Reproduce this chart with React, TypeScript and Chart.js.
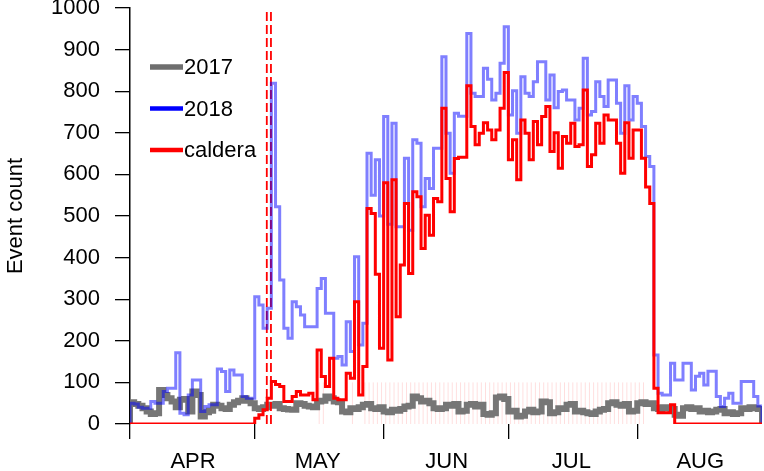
import React, { useEffect, useRef } from 'react';
import { Chart, registerables } from 'chart.js';

Chart.register(...registerables);

const FONT = '"Liberation Sans", Arial, Helvetica, sans-serif';

// x axis: days since 1 April
const dayCount = 152;
const monthTicks = [0, 30, 61, 91, 122];
const monthLabels = ['APR', 'MAY', 'JUN', 'JUL', 'AUG'];
const yMax = 1000;
const yStep = 100;

const counts2017 = [
  52, 48, 44, 38, 30, 24, 26, 82, 70, 62,
  54, 40, 58, 60, 30, 78, 70, 18, 28, 32,
  46, 44, 38, 36, 46, 52, 56, 62, 56, 50,
  38, 36, 40, 46, 44, 48, 38, 36, 35, 34,
  50, 48, 44, 42, 40, 54, 56, 66, 62, 54,
  52, 30, 28, 38, 36, 40, 46, 48, 38, 36,
  40, 30, 28, 34, 32, 36, 42, 44, 66, 62,
  54, 56, 50, 38, 36, 38, 46, 44, 48, 30,
  32, 46, 48, 42, 46, 24, 22, 26, 64, 66,
  60, 30, 32, 18, 20, 30, 34, 28, 30, 54,
  52, 26, 28, 38, 36, 46, 48, 30, 32, 28,
  26, 24, 30, 34, 36, 50, 52, 46, 44, 48,
  30, 32, 50, 52, 48, 50, 38, 36, 40, 38,
  36, 22, 20, 38, 40, 36, 38, 30, 32, 28,
  30, 34, 36, 26, 28, 24, 26, 38, 36, 40,
  38, 36,
];

const counts2018 = [
  50, 48, 40, 38, 38, 54, 50, 50, 78, 86,
  86, 171, 26, 22, 70, 106, 106, 30, 42, 46,
  46, 132, 126, 78, 130, 118, 118, 66, 62, 62,
  306, 286, 230, 278, 819, 522, 346, 230, 206, 294,
  282, 262, 234, 234, 234, 326, 350, 266, 266, 158,
  162, 142, 246, 174, 402, 190, 242, 651, 550, 635,
  500, 739, 480, 723, 474, 474, 639, 466, 683, 675,
  522, 590, 566, 663, 663, 883, 699, 603, 747, 740,
  740, 939, 795, 787, 787, 855, 829, 779, 795, 867,
  955, 743, 801, 699, 835, 795, 787, 823, 871, 871,
  779, 839, 760, 799, 803, 779, 779, 731, 759, 879,
  743, 751, 823, 787, 763, 827, 827, 771, 699, 813,
  731, 787, 771, 715, 643, 619, 166, 74, 70, 70,
  146, 106, 106, 146, 146, 82, 115, 122, 94, 127,
  127, 66, 42, 62, 74, 50, 50, 102, 102, 102,
  66, 43,
];

const countsCaldera = [
  0, 0, 0, 0, 0, 0, 0, 0, 0, 0,
  0, 0, 0, 0, 0, 0, 0, 0, 0, 0,
  0, 0, 0, 0, 0, 0, 0, 0, 0, 0,
  14, 22, 34, 62, 102, 95, 90, 54, 54, 66,
  78, 70, 70, 74, 58, 178, 114, 90, 158, 62,
  58, 58, 122, 110, 294, 70, 138, 518, 506, 360,
  182, 580, 154, 587, 258, 382, 530, 362, 558, 546,
  422, 502, 454, 542, 534, 759, 590, 510, 638, 641,
  641, 813, 715, 671, 699, 724, 707, 683, 707, 759,
  845, 635, 683, 587, 731, 699, 635, 727, 671, 739,
  763, 655, 700, 615, 691, 675, 723, 667, 671, 803,
  619, 647, 723, 675, 743, 731, 731, 675, 603, 724,
  639, 707, 707, 639, 570, 530, 86, 27, 27, 27,
  46, 0, 0, 0, 0, 0, 0, 0, 0, 0,
  0, 0, 0, 0, 0, 0, 0, 0, 0, 0,
  0, 0,
];

// dashed event markers (days since 1 April)
const eventDays = [32.9, 33.9];

// faint daily rug marks
const rugDays = [
  45, 46, 53, 56, 57, 58, 59, 60, 61, 62, 63, 64, 65, 66, 67, 68, 69, 70,
  71, 72, 73, 74, 75, 76, 77, 78, 79, 80, 81, 82, 83, 84, 85, 86, 87, 88,
  89, 90, 91, 92, 93, 94, 95, 96, 97, 98, 99, 100, 101, 102, 103, 104, 105,
  106, 107, 108, 109, 110, 111, 112, 113, 114, 115, 116, 117, 118, 119, 120,
  121, 122, 123,
];
const rugHeight = 100;

const seriesNames = ['2017', '2018', 'caldera'];
const seriesColors = ['rgb(118,118,118)', 'rgba(0,0,255,0.5)', '#ff0000'];
const legendColors = ['rgb(110,110,110)', '#0000ff', '#ff0000'];

function stepData(vals: number[]) {
  return [
    { x: 0, y: 0 },
    ...vals.map((v, i) => ({ x: i, y: v })),
    { x: vals.length, y: 0 },
  ];
}

const legendPlugin = {
  id: 'customLegend',
  afterDraw(chart: any) {
    const ctx = chart.ctx as CanvasRenderingContext2D;
    const left = chart.chartArea.left;
    ctx.save();
    ctx.font = `22px ${FONT}`;
    ctx.textBaseline = 'middle';
    ctx.textAlign = 'left';
    seriesNames.forEach((name, i) => {
      const y = 67 + i * 41.5;
      ctx.strokeStyle = legendColors[i];
      ctx.lineWidth = i === 0 ? 5.5 : 4.5;
      ctx.lineCap = 'butt';
      ctx.beginPath();
      ctx.moveTo(left + 20, y);
      ctx.lineTo(left + 53, y);
      ctx.stroke();
      ctx.fillStyle = '#000';
      ctx.fillText(name, left + 54, y + 1);
    });
    ctx.restore();
  },
};

export default function App() {
  const ref = useRef<HTMLCanvasElement | null>(null);

  useEffect(() => {
    if (!ref.current) return;
    const rugData: any[] = [];
    rugDays.forEach((d) => {
      rugData.push({ x: d + 0.5, y: 0 }, { x: d + 0.5, y: rugHeight }, { x: d + 0.5, y: null });
    });

    const datasets: any[] = [
      {
        label: 'rug',
        data: rugData,
        borderColor: 'rgba(255,0,0,0.13)',
        borderWidth: 1,
        pointRadius: 0,
        spanGaps: false,
        order: 6,
      },
      {
        label: seriesNames[0],
        data: stepData(counts2017),
        borderColor: seriesColors[0],
        borderWidth: 6,
        stepped: 'before',
        pointRadius: 0,
        order: 5,
      },
      ...eventDays.map((d) => ({
        label: 'event',
        data: [
          { x: d, y: 0 },
          { x: d, y: yMax },
        ],
        borderColor: '#ff0000',
        borderWidth: 1.8,
        borderDash: [9, 4],
        pointRadius: 0,
        order: 4,
      })),
      {
        label: seriesNames[1],
        data: stepData(counts2018),
        borderColor: seriesColors[1],
        borderWidth: 3,
        stepped: 'before',
        pointRadius: 0,
        order: 2,
      },
      {
        label: seriesNames[2],
        data: stepData(countsCaldera),
        borderColor: seriesColors[2],
        borderWidth: 3,
        stepped: 'before',
        pointRadius: 0,
        order: 1,
      },
    ];

    const chart = new Chart(ref.current, {
      type: 'line',
      data: { datasets },
      plugins: [legendPlugin],
      options: {
        animation: false,
        responsive: false,
        events: [],
        layout: { padding: { top: 8, right: 2, left: 0, bottom: 0 } },
        plugins: { legend: { display: false }, tooltip: { enabled: false } },
        scales: {
          x: {
            type: 'linear',
            min: 0,
            max: dayCount,
            offset: false,
            border: { display: false },
            grid: {
              drawOnChartArea: false,
              drawTicks: true,
              tickLength: 15,
              color: '#000',
              lineWidth: 1.3,
            },
            afterBuildTicks: (scale: any) => {
              scale.ticks = monthTicks.map((v) => ({ value: v }));
            },
            afterFit: (scale: any) => {
              scale.height = 47;
              scale.paddingLeft = 0;
              scale.paddingRight = 0;
            },
            ticks: {
              autoSkip: false,
              maxRotation: 0,
              minRotation: 0,
              labelOffset: 63,
              padding: 10,
              color: '#000',
              font: { family: FONT, size: 22 },
              callback: (_v: any, i: number) => monthLabels[i],
            },
          },
          y: {
            type: 'linear',
            min: 0,
            max: yMax,
            border: { display: true, color: '#000', width: 1.5 },
            grid: {
              drawOnChartArea: false,
              drawTicks: true,
              tickLength: 15,
              color: '#000',
              lineWidth: 1.3,
            },
            afterFit: (scale: any) => {
              scale.width = 130;
              scale.paddingTop = 0;
              scale.paddingBottom = 0;
            },
            ticks: {
              stepSize: yStep,
              padding: 15,
              color: '#000',
              font: { family: FONT, size: 22 },
              callback: (v: any) => String(v),
            },
            title: {
              display: true,
              text: 'Event count',
              color: '#000',
              font: { family: FONT, size: 22 },
              padding: { top: 3, bottom: 0 },
            },
          },
        },
      } as any,
    });
    return () => chart.destroy();
  }, []);

  return (
    <div style={{ position: 'fixed', left: 0, top: 0, width: 764, height: 471, background: '#fff' }}>
      <canvas ref={ref} width={764} height={471} style={{ width: 764, height: 471, display: 'block' }} />
    </div>
  );
}
